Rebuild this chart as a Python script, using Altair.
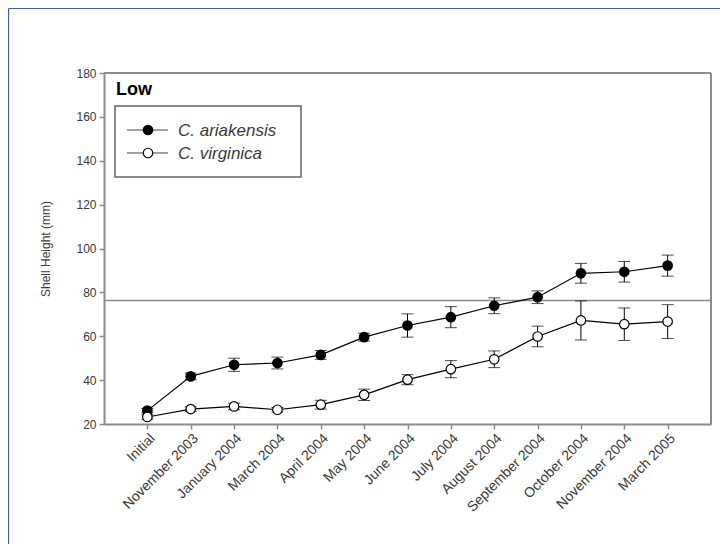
import altair as alt
import pandas as pd

categories = ["Initial", "November 2003", "January 2004", "March 2004", "April 2004",
              "May 2004", "June 2004", "July 2004", "August 2004", "September 2004",
              "October 2004", "November 2004", "March 2005"]
ariakensis_mean = [26.1, 41.7, 47.0, 47.8, 51.5, 59.6, 64.9, 68.7, 73.9, 77.8, 88.7, 89.4, 92.2]
ariakensis_err = [1.0, 1.5, 3.0, 2.7, 2.0, 1.8, 5.3, 4.8, 3.6, 2.9, 4.5, 4.7, 4.8]
virginica_mean = [23.2, 26.8, 28.0, 26.5, 28.8, 33.3, 40.2, 45.0, 49.5, 59.9, 67.2, 65.5, 66.7]
virginica_err = [1.0, 1.0, 1.5, 1.0, 2.0, 2.6, 2.3, 3.9, 3.8, 4.7, 8.9, 7.4, 7.7]
series_names = ["C. ariakensis", "C. virginica"]
reference_line = [76.3]
y_ticks = [20, 40, 60, 80, 100, 120, 140, 160, 180]
panel_title = "Low"

W, H = 607, 351

rows = []
for name, means, errs in [(series_names[0], ariakensis_mean, ariakensis_err),
                          (series_names[1], virginica_mean, virginica_err)]:
    for c, m, e in zip(categories, means, errs):
        rows.append({"month": c, "series": name, "mean": m, "lo": m - e, "hi": m + e})
df = pd.DataFrame(rows)

FONT = "Liberation Sans"
GREY = "#8c8c8c"

x_enc = alt.X("month:O", scale=alt.Scale(type="point", domain=categories, padding=1),
              sort=categories,
              axis=alt.Axis(title=None, labelAngle=-45, labelAlign="right", labelBaseline="top",
                            labelFontSize=14, labelColor="#3a3a3a", labelFont=FONT,
                            tickColor=GREY, tickSize=5, tickWidth=1.5, labelPadding=2,
                            domainColor=GREY, domainWidth=2))
y_scale = alt.Scale(domain=[20, 180], nice=False)
y_axis = alt.Axis(title="Shell Height (mm)", values=y_ticks, titleFontSize=12,
                  titleFont=FONT, titleFontWeight="normal", titleColor="#3a3a3a",
                  labelFontSize=12, labelFont=FONT, labelColor="#3a3a3a",
                  tickColor=GREY, tickSize=5, tickWidth=1.5, labelPadding=3,
                  domainColor=GREY, domainWidth=2, titlePadding=23, grid=False)

base = alt.Chart(df)

ref = alt.Chart(pd.DataFrame({"y": reference_line})).mark_rule(
    color=GREY, strokeWidth=1.5).encode(y=alt.Y("y:Q", scale=y_scale, axis=y_axis))

err_rule = base.mark_rule(color="black", strokeWidth=1).encode(
    x=x_enc, y=alt.Y("lo:Q", scale=y_scale, axis=y_axis), y2="hi:Q")
cap_lo = base.mark_tick(color="black", size=12, thickness=1, orient="horizontal").encode(
    x=x_enc, y=alt.Y("lo:Q", scale=y_scale, axis=y_axis))
cap_hi = base.mark_tick(color="black", size=12, thickness=1, orient="horizontal").encode(
    x=x_enc, y=alt.Y("hi:Q", scale=y_scale, axis=y_axis))

line = base.mark_line(color="black", strokeWidth=1.2).encode(
    x=x_enc, y=alt.Y("mean:Q", scale=y_scale, axis=y_axis), detail="series:N")

pts = base.mark_point(shape="circle", size=90, stroke="black", strokeWidth=1.2, opacity=1,
                      filled=False).encode(
    x=x_enc, y=alt.Y("mean:Q", scale=y_scale, axis=y_axis),
    fill=alt.Fill("series:N", scale=alt.Scale(domain=series_names, range=["black", "white"]),
                  legend=None))

one = pd.DataFrame({"k": [0]})

box_top = alt.Chart(one).mark_rule(color=GREY, strokeWidth=2).encode(
    x=alt.value(0), x2=alt.value(W), y=alt.value(0))
box_right = alt.Chart(one).mark_rule(color=GREY, strokeWidth=2).encode(
    x=alt.value(W), y=alt.value(0), y2=alt.value(H))

title_txt = alt.Chart(one).mark_text(text=panel_title, fontSize=18, fontWeight="bold",
                                     font=FONT, align="left", baseline="alphabetic",
                                     color="black").encode(
    x=alt.value(12), y=alt.value(22))

leg_box = alt.Chart(one).mark_rect(fill="white", stroke="#666666", strokeWidth=1.5).encode(
    x=alt.value(11), x2=alt.value(197), y=alt.value(33), y2=alt.value(104))

leg_layers = [leg_box]
for i, (name, fillc) in enumerate(zip(series_names, ["black", "white"])):
    yy = 57 + 23 * i
    leg_layers.append(alt.Chart(one).mark_rule(color="#444444", strokeWidth=1.2).encode(
        x=alt.value(23), x2=alt.value(64), y=alt.value(yy)))
    leg_layers.append(alt.Chart(one).mark_point(shape="circle", size=90, stroke="black",
                                                strokeWidth=1.2, fill=fillc, opacity=1).encode(
        x=alt.value(44), y=alt.value(yy)))
    leg_layers.append(alt.Chart(one).mark_text(text=name, fontSize=17, fontStyle="italic",
                                               font=FONT, align="left", baseline="middle",
                                               color="#3a3a3a").encode(
        x=alt.value(74), y=alt.value(yy + 1)))

frame_left = alt.Chart(one).mark_rule(color="#3b5fa8", strokeWidth=1.2).encode(
    x=alt.value(-95.5), y=alt.value(-64.5), y2=alt.value(480))
frame_top = alt.Chart(one).mark_rule(color="#3b5fa8", strokeWidth=1.2).encode(
    x=alt.value(-95.5), x2=alt.value(620), y=alt.value(-64.5))

chart = alt.layer(ref, err_rule, cap_lo, cap_hi, line, pts, box_top, box_right, title_txt,
                  *leg_layers, frame_left, frame_top).properties(
    width=W, height=H,
    autosize=alt.AutoSizeParams(type="none"),
    padding={"left": 96, "top": 65, "right": 9, "bottom": 120},
).configure_view(stroke=None).configure(background="white")

chart.save("out.html", embed_options={"renderer": "svg", "actions": False})
